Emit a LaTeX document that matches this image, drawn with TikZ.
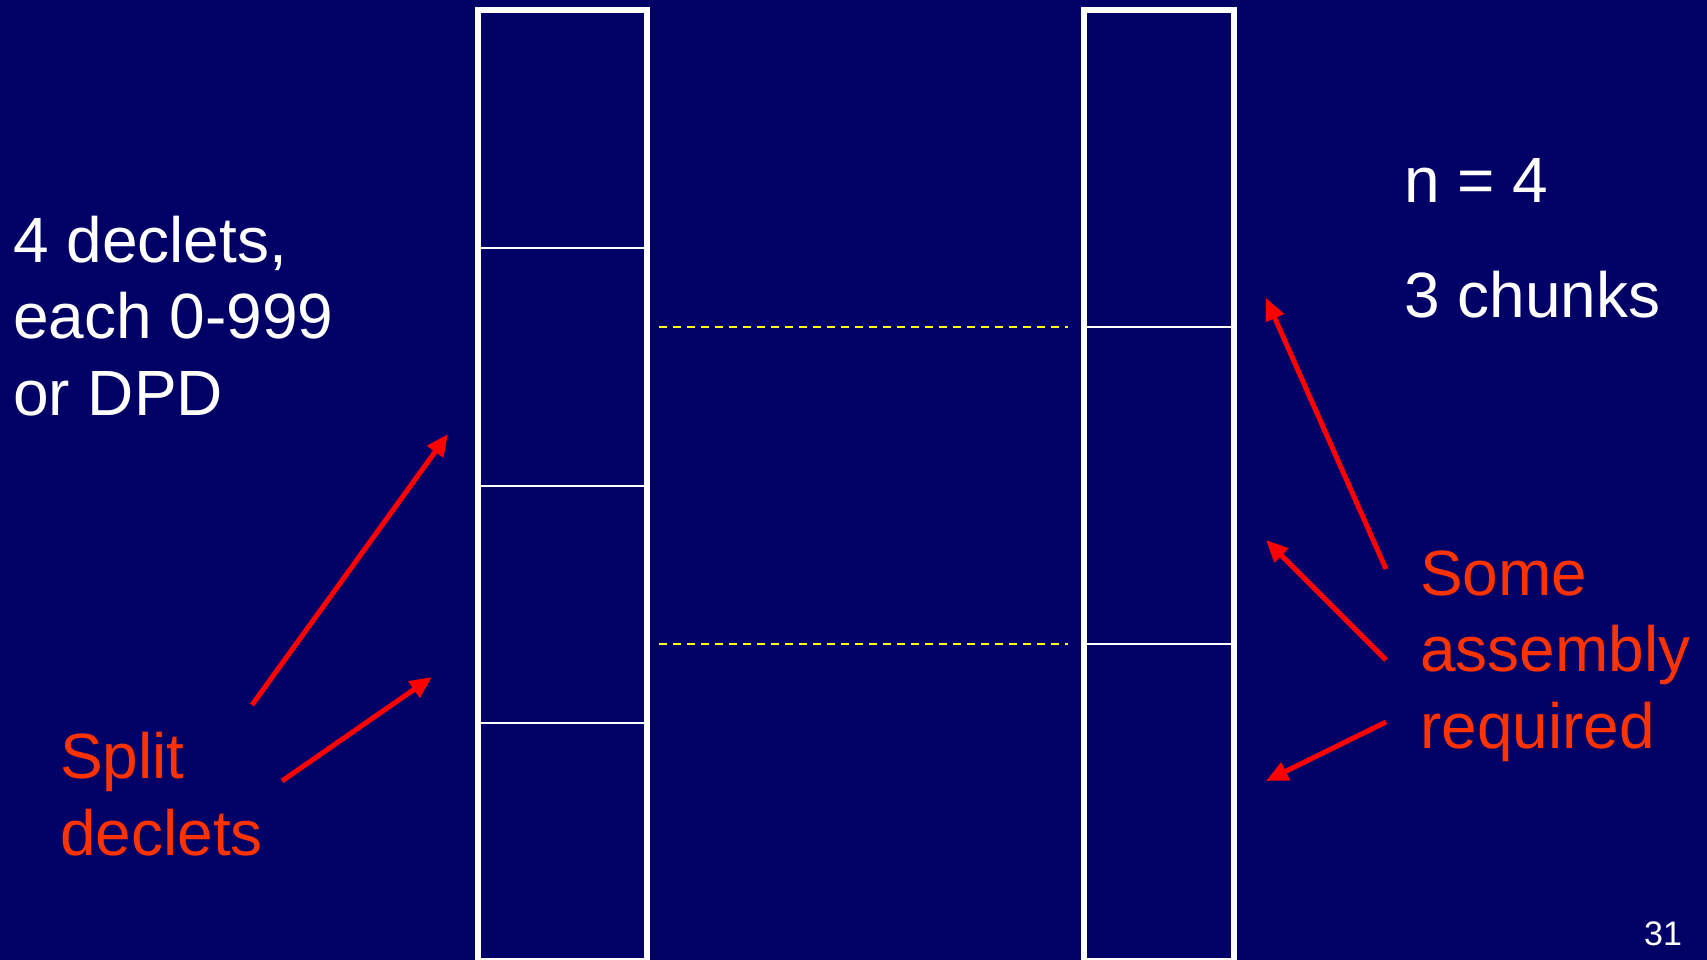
\documentclass[tikz,border=0pt]{standalone}
\usepackage{fontspec}
\setmainfont{Liberation Sans}
\usetikzlibrary{arrows.meta,calc}
\definecolor{slidenavy}{HTML}{000066}
\definecolor{notered}{HTML}{FF3300}
\definecolor{arrowred}{HTML}{FF0000}
\definecolor{chunkyellow}{HTML}{FFFF00}

\begin{document}
\begin{tikzpicture}[
    x=1pt, y=-1pt,
    column/.style={rectangle, draw=white, line width=6pt, inner sep=0pt, outer sep=0pt, minimum height=951pt},
    divider/.style={draw=white, line width=2pt},
    chunkline/.style={draw=chunkyellow, line width=2pt, dash pattern=on 8pt off 6pt},
    whitetext/.style={text=white, anchor=base west, align=left, inner sep=0pt, font=\fontsize{64}{76.5}\selectfont},
    redtext/.style={whitetext, text=notered},
    arrow/.style={-{Triangle[length=22pt,width=19pt]}, line width=5pt, draw=arrowred}
  ]
    \useasboundingbox (0,0) rectangle (1707,960);
    \fill[slidenavy] (0,0) rectangle (1707,960);
    % declet column and chunk column
    \node[column, minimum width=169pt] (declets) at (562.5,485.5) {};
    \node[column, minimum width=150pt] (chunks) at (1159,485.5) {};
    \foreach \f in {0.25,0.5,0.75}
      \draw[divider] ($(declets.north west)!\f!(declets.south west)$) -- ($(declets.north east)!\f!(declets.south east)$);
    \foreach \f in {1/3,2/3} {
      \draw[divider] ($(chunks.north west)!\f!(chunks.south west)$) -- ($(chunks.north east)!\f!(chunks.south east)$);
      \draw[chunkline] ($(declets.north east)!\f!(declets.south east)+(12,0)$) -- ($(chunks.north west)!\f!(chunks.south west)+(-16,0)$);
    }
    % labels (base anchor sits on the last line)
    \node[whitetext] (info) at (13,415) {4 declets,\\each 0-999\\or DPD};
    \node[redtext] (split) at (60,855) {Split\\declets};
    \node[whitetext] (nval) at (1404,203) {n = 4};
    \node[whitetext] (count) at (1404,317) {3 chunks};
    \node[redtext] (assembly) at (1420,748) {Some\\assembly\\required};
    \node[text=white, anchor=base west, inner sep=0pt, font=\fontsize{34}{40}\selectfont] (page) at (1644,945) {31};
    % arrow ends
    \coordinate (splitA) at (252,705);
    \coordinate (splitAtip) at (448,434);
    \coordinate (splitB) at (282,781);
    \coordinate (splitBtip) at (432,677);
    \coordinate (joinA) at (1386,569);
    \coordinate (joinAtip) at (1266,298);
    \coordinate (joinB) at (1386,660);
    \coordinate (joinBtip) at (1266,540);
    \coordinate (joinC) at (1386,722);
    \coordinate (joinCtip) at (1266,781);
    \draw[arrow] (splitA) -- (splitAtip);
    \draw[arrow] (splitB) -- (splitBtip);
    \draw[arrow] (joinA) -- (joinAtip);
    \draw[arrow] (joinB) -- (joinBtip);
    \draw[arrow] (joinC) -- (joinCtip);
\end{tikzpicture}
\end{document}
